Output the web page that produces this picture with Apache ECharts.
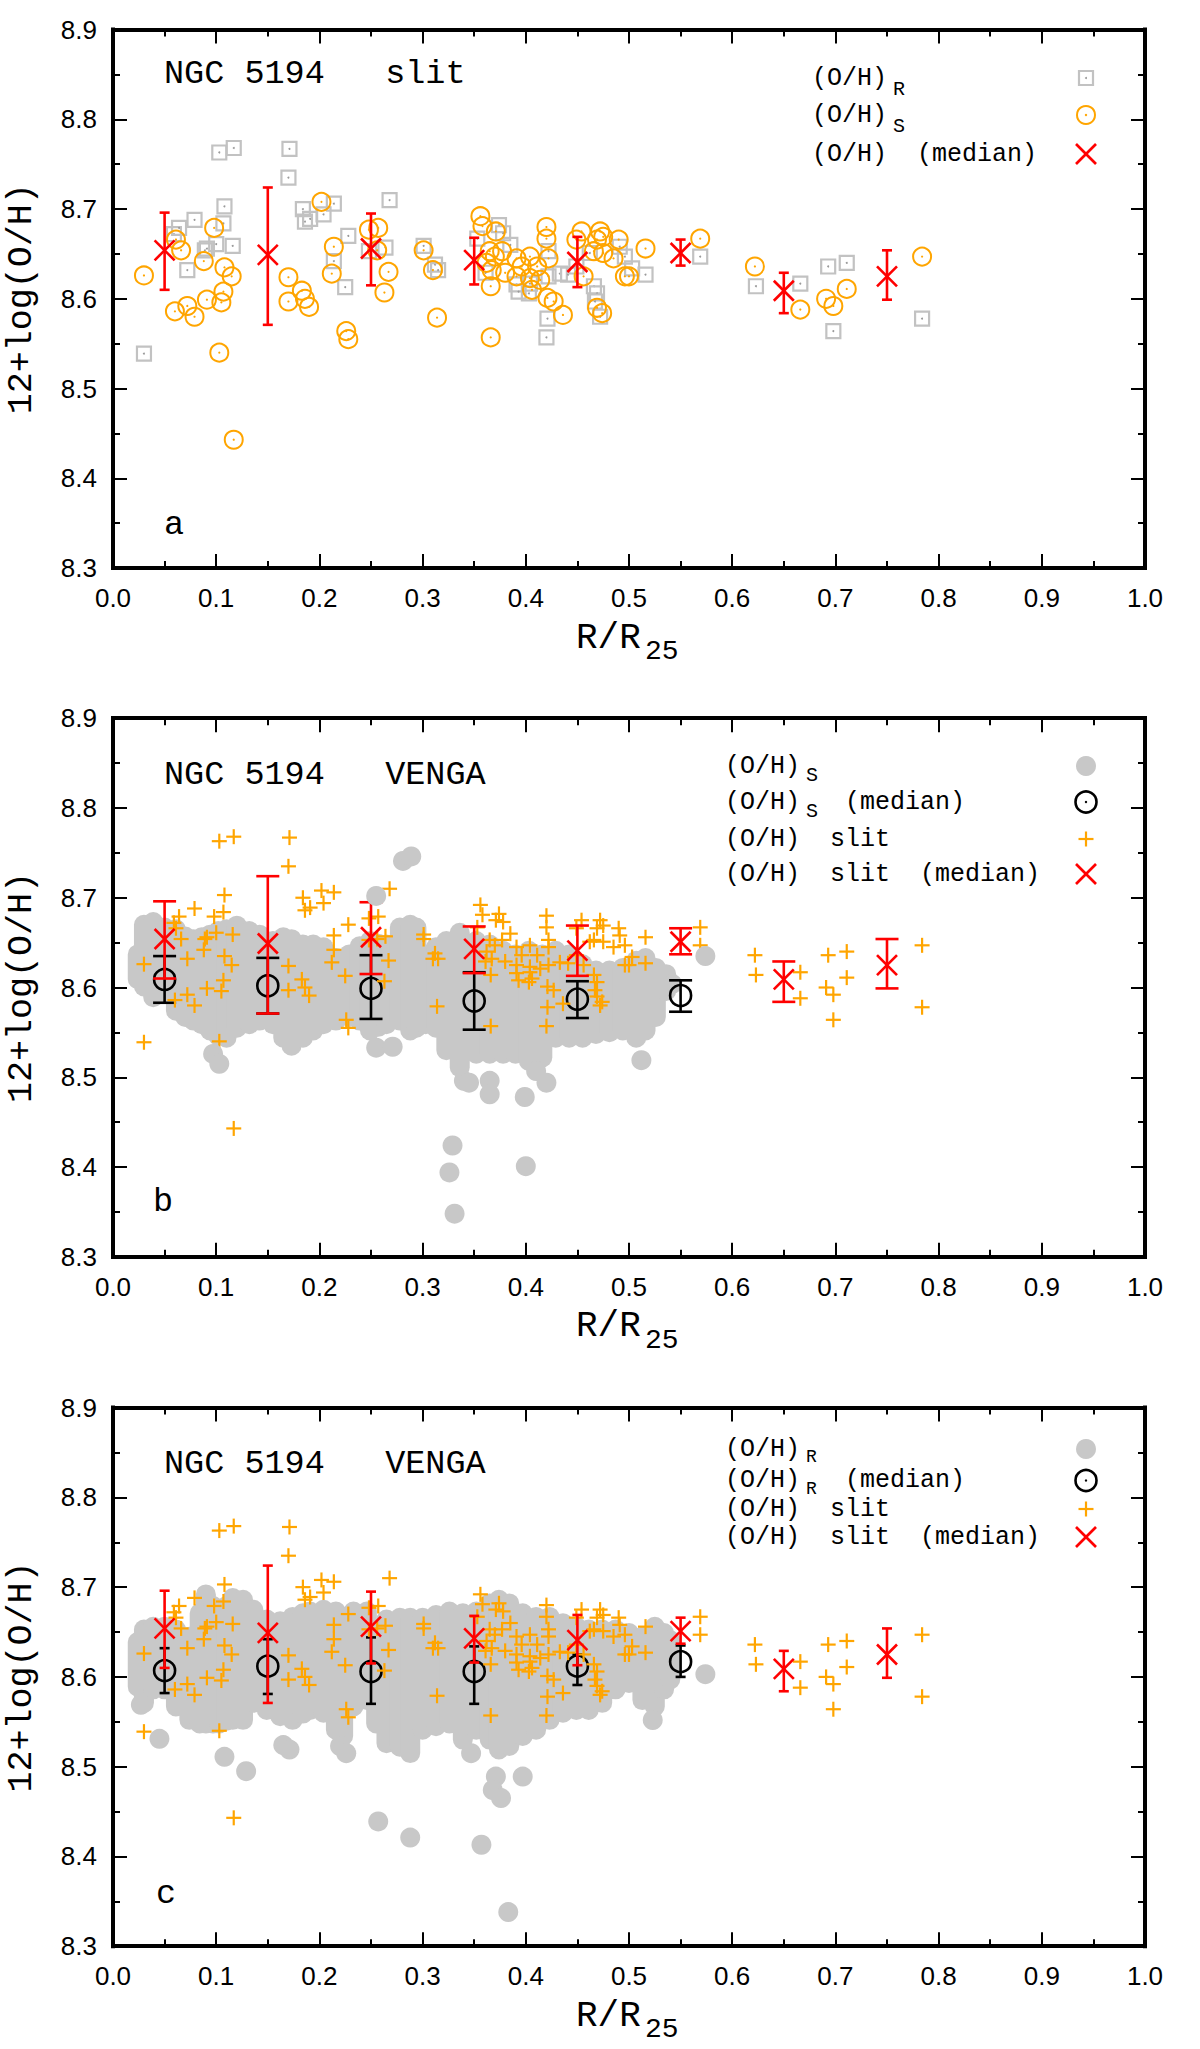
<!DOCTYPE html>
<html>
<head>
<meta charset="utf-8">
<script src="https://cdn.jsdelivr.net/npm/echarts@6/dist/echarts.min.js"></script>
<style>
html,body{margin:0;padding:0;background:#ffffff;}
#chart{width:1200px;height:2049px;}
</style>
</head>
<body>
<div id="chart"></div>
<script>
// ================= DATA =================
const xTickLabels = ['0.0','0.1','0.2','0.3','0.4','0.5','0.6','0.7','0.8','0.9','1.0'];
const yTickLabels = ['8.3','8.4','8.5','8.6','8.7','8.8','8.9'];

// slit measurements, (O/H)_R  : [R/R25, 12+log(O/H)]
const slitR = [
  [0.030,8.539],[0.059,8.672],[0.064,8.679],[0.072,8.632],[0.079,8.688],[0.089,8.654],[0.091,8.656],
  [0.100,8.661],[0.103,8.763],[0.107,8.684],[0.108,8.703],[0.116,8.659],[0.117,8.768],[0.170,8.735],
  [0.171,8.767],[0.184,8.700],[0.186,8.686],[0.191,8.689],[0.204,8.694],[0.214,8.706],[0.214,8.642],
  [0.225,8.613],[0.228,8.670],[0.248,8.653],[0.264,8.657],[0.268,8.710],[0.301,8.659],[0.312,8.638],
  [0.315,8.632],[0.353,8.667],[0.361,8.629],[0.374,8.682],[0.378,8.673],[0.385,8.660],[0.391,8.616],
  [0.393,8.608],[0.403,8.606],[0.404,8.617],[0.422,8.653],[0.422,8.625],[0.421,8.578],[0.420,8.557],
  [0.433,8.628],[0.441,8.627],[0.449,8.636],[0.462,8.651],[0.466,8.614],[0.469,8.606],[0.467,8.597],
  [0.472,8.580],[0.491,8.658],[0.496,8.647],[0.503,8.634],[0.516,8.627],[0.569,8.647],[0.623,8.614],
  [0.666,8.617],[0.693,8.636],[0.698,8.564],[0.711,8.640],[0.784,8.578]
];
// slit measurements, (O/H)_S
const slitS = [
  [0.030,8.626],[0.060,8.586],[0.061,8.666],[0.066,8.654],[0.072,8.592],[0.079,8.580],[0.088,8.642],
  [0.091,8.599],[0.098,8.679],[0.103,8.540],[0.105,8.596],[0.107,8.608],[0.108,8.635],[0.115,8.625],
  [0.117,8.443],[0.170,8.624],[0.170,8.597],[0.183,8.609],[0.186,8.600],[0.190,8.591],[0.202,8.708],
  [0.212,8.628],[0.214,8.658],[0.226,8.564],[0.228,8.555],[0.248,8.677],[0.256,8.654],[0.257,8.679],
  [0.263,8.607],[0.267,8.630],[0.301,8.654],[0.310,8.632],[0.314,8.579],[0.356,8.692],[0.358,8.681],
  [0.362,8.640],[0.365,8.653],[0.366,8.614],[0.366,8.557],[0.367,8.632],[0.370,8.647],[0.371,8.675],
  [0.377,8.653],[0.380,8.629],[0.391,8.645],[0.391,8.625],[0.396,8.636],[0.404,8.647],[0.404,8.623],
  [0.406,8.610],[0.411,8.636],[0.414,8.621],[0.420,8.680],[0.420,8.667],[0.421,8.601],[0.422,8.645],
  [0.427,8.597],[0.436,8.582],[0.449,8.666],[0.454,8.675],[0.456,8.625],[0.466,8.653],[0.469,8.666],
  [0.469,8.590],[0.472,8.675],[0.474,8.584],[0.475,8.669],[0.475,8.651],[0.485,8.645],[0.490,8.666],
  [0.496,8.625],[0.500,8.625],[0.516,8.656],[0.569,8.667],[0.622,8.636],[0.666,8.588],[0.691,8.600],
  [0.698,8.592],[0.711,8.611],[0.784,8.647]
];
// slit medians per 0.1 bin
const slitMedX  = [0.05, 0.15, 0.25, 0.35, 0.45, 0.55, 0.65, 0.75];
const slitMedY  = [8.654,8.649,8.656,8.643,8.641,8.651,8.609,8.625];
const slitMedLo = [8.610,8.571,8.615,8.616,8.613,8.637,8.584,8.599];
const slitMedHi = [8.696,8.724,8.695,8.668,8.669,8.666,8.629,8.654];

// VENGA (O/H)_S : dense cloud read as columns [R/R25, lower edge, upper edge]
const vengaSCloud = [
  [0.024,8.598,8.648],[0.030,8.590,8.681],[0.039,8.578,8.684],[0.050,8.583,8.678],[0.061,8.563,8.676],
  [0.070,8.556,8.668],[0.078,8.552,8.665],[0.086,8.548,8.667],[0.094,8.541,8.670],[0.102,8.535,8.674],
  [0.110,8.533,8.676],[0.120,8.544,8.680],[0.132,8.548,8.674],[0.142,8.552,8.670],[0.155,8.548,8.663],
  [0.165,8.533,8.667],[0.173,8.524,8.665],[0.184,8.533,8.659],[0.194,8.541,8.659],[0.204,8.548,8.656],
  [0.216,8.552,8.644],[0.229,8.556,8.648],[0.239,8.552,8.657],[0.249,8.541,8.663],[0.257,8.545,8.660],
  [0.265,8.548,8.659],[0.278,8.552,8.678],[0.288,8.541,8.681],[0.294,8.544,8.678],[0.303,8.548,8.648],
  [0.313,8.544,8.656],[0.323,8.519,8.663],[0.336,8.500,8.672],[0.352,8.515,8.663],[0.365,8.515,8.659],
  [0.378,8.515,8.652],[0.390,8.515,8.648],[0.403,8.507,8.652],[0.416,8.511,8.648],[0.429,8.533,8.652],
  [0.442,8.533,8.648],[0.455,8.533,8.637],[0.468,8.537,8.630],[0.481,8.539,8.630],[0.494,8.541,8.633],
  [0.507,8.533,8.641],[0.516,8.541,8.644],[0.526,8.556,8.633],[0.536,8.585,8.626],[0.542,8.596,8.615]
];
// VENGA (O/H)_S : isolated points
const vengaSOut = [
  [0.097,8.526],[0.103,8.515],[0.255,8.533],[0.271,8.534],[0.255,8.702],[0.281,8.741],[0.289,8.746],
  [0.329,8.424],[0.326,8.394],[0.331,8.348],[0.400,8.401],[0.340,8.496],[0.345,8.494],[0.365,8.496],
  [0.365,8.481],[0.399,8.478],[0.410,8.507],[0.420,8.494],[0.512,8.519],[0.574,8.635]
];
const vengaSMedX  = [0.05, 0.15, 0.25, 0.35, 0.45, 0.55];
const vengaSMedY  = [8.609,8.602,8.599,8.585,8.587,8.591];
const vengaSMedLo = [8.583,8.571,8.565,8.553,8.566,8.573];
const vengaSMedHi = [8.635,8.633,8.636,8.617,8.607,8.608];

// VENGA (O/H)_R : dense cloud columns [R/R25, lower edge, upper edge]
const vengaRCloud = [
  [0.024,8.578,8.650],[0.030,8.560,8.664],[0.039,8.575,8.667],[0.050,8.575,8.667],[0.061,8.556,8.664],
  [0.074,8.541,8.656],[0.084,8.537,8.682],[0.090,8.537,8.703],[0.097,8.537,8.690],[0.103,8.537,8.682],
  [0.110,8.540,8.690],[0.116,8.541,8.699],[0.126,8.541,8.697],[0.136,8.560,8.686],[0.149,8.552,8.675],
  [0.162,8.545,8.673],[0.174,8.541,8.678],[0.184,8.548,8.682],[0.191,8.552,8.684],[0.204,8.549,8.686],
  [0.216,8.530,8.684],[0.223,8.523,8.675],[0.233,8.556,8.684],[0.246,8.563,8.684],[0.255,8.537,8.660],
  [0.265,8.515,8.675],[0.278,8.511,8.677],[0.288,8.504,8.677],[0.300,8.530,8.677],[0.313,8.534,8.680],
  [0.326,8.537,8.684],[0.339,8.519,8.682],[0.352,8.530,8.684],[0.365,8.519,8.693],[0.374,8.508,8.697],
  [0.384,8.512,8.693],[0.397,8.523,8.682],[0.410,8.530,8.678],[0.423,8.541,8.678],[0.436,8.549,8.671],
  [0.449,8.552,8.667],[0.461,8.552,8.664],[0.474,8.560,8.664],[0.487,8.575,8.664],[0.500,8.582,8.660],
  [0.513,8.563,8.656],[0.525,8.556,8.667],[0.534,8.575,8.660],[0.540,8.586,8.652]
];
const vengaROut = [
  [0.045,8.531],[0.027,8.569],[0.108,8.511],[0.129,8.495],[0.165,8.524],[0.171,8.519],[0.220,8.523],
  [0.226,8.515],[0.257,8.439],[0.288,8.421],[0.357,8.413],[0.383,8.338],[0.347,8.515],[0.371,8.489],
  [0.368,8.474],[0.376,8.465],[0.397,8.489],[0.523,8.552],[0.574,8.603]
];
const vengaRMedX  = [0.05, 0.15, 0.25, 0.35, 0.45, 0.55];
const vengaRMedY  = [8.607,8.612,8.606,8.606,8.612,8.617];
const vengaRMedLo = [8.582,8.581,8.570,8.570,8.591,8.600];
const vengaRMedHi = [8.632,8.642,8.644,8.634,8.625,8.635];

// ================= STYLE / LAYOUT =================
const ORANGE = '#ffa500', RED = '#ff0000', BLACK = '#000000';
const SQGRAY = '#c2c2c2', CLOUD = '#c8c8c8';
const SANS = '"Liberation Sans", Arial, Helvetica, sans-serif';
const MONO = '"Liberation Mono", "Courier New", monospace';
const GRID_LEFT = 113, GRID_W = 1032, GRID_H = 538.6;
const GRID_TOP = [29.5, 718.2, 1407.6];

const zip4 = (a, b, c, d) => a.map((v, i) => [v, b[i], c[i], d[i]]);

// ---------- render helpers ----------
function cloudItem(params, api) {
  const x = api.value(0), lo = api.value(1), hi = api.value(2);
  const t = api.coord([x, hi]), b = api.coord([x, lo]);
  const r = 10;
  return { type: 'rect', shape: { x: t[0] - r, y: t[1], width: 2 * r, height: Math.max(b[1] - t[1], 2 * r), r: r },
           style: { fill: CLOUD } };
}
function ringItem(params, api) {
  const p = api.coord([api.value(0), api.value(1)]);
  return { type: 'group', children: [
    { type: 'circle', shape: { cx: p[0], cy: p[1], r: 9 }, style: { fill: 'none', stroke: ORANGE, lineWidth: 2 } },
    { type: 'circle', shape: { cx: p[0], cy: p[1], r: 1.1 }, style: { fill: ORANGE } }
  ] };
}
function squareItem(params, api) {
  const p = api.coord([api.value(0), api.value(1)]);
  return { type: 'group', children: [
    { type: 'rect', shape: { x: p[0] - 7, y: p[1] - 7, width: 14, height: 14 }, style: { fill: 'none', stroke: SQGRAY, lineWidth: 2.2 } },
    { type: 'circle', shape: { cx: p[0], cy: p[1], r: 1 }, style: { fill: '#9a9a9a' } }
  ] };
}
function plusItem(params, api) {
  const p = api.coord([api.value(0), api.value(1)]);
  const h = 7.5;
  return { type: 'group', children: [
    { type: 'line', shape: { x1: p[0] - h, y1: p[1], x2: p[0] + h, y2: p[1] }, style: { stroke: ORANGE, lineWidth: 2.2 } },
    { type: 'line', shape: { x1: p[0], y1: p[1] - h, x2: p[0], y2: p[1] + h }, style: { stroke: ORANGE, lineWidth: 2.2 } }
  ] };
}
function medianItem(marker, color, capW) {
  return function (params, api) {
    const x = api.value(0), y = api.value(1), lo = api.value(2), hi = api.value(3);
    const c = api.coord([x, y]), pHi = api.coord([x, hi]), pLo = api.coord([x, lo]);
    const st = { stroke: color, lineWidth: 2.6 };
    const ch = [
      { type: 'line', shape: { x1: pHi[0], y1: pHi[1], x2: pLo[0], y2: pLo[1] }, style: st },
      { type: 'line', shape: { x1: pHi[0] - capW / 2, y1: pHi[1], x2: pHi[0] + capW / 2, y2: pHi[1] }, style: st },
      { type: 'line', shape: { x1: pLo[0] - capW / 2, y1: pLo[1], x2: pLo[0] + capW / 2, y2: pLo[1] }, style: st }
    ];
    if (marker === 'x') {
      const h = 10;
      ch.push({ type: 'line', shape: { x1: c[0] - h, y1: c[1] - h, x2: c[0] + h, y2: c[1] + h }, style: st });
      ch.push({ type: 'line', shape: { x1: c[0] - h, y1: c[1] + h, x2: c[0] + h, y2: c[1] - h }, style: st });
    } else {
      ch.push({ type: 'circle', shape: { cx: c[0], cy: c[1], r: 10.5 }, style: { fill: 'none', stroke: color, lineWidth: 2.6 } });
    }
    return { type: 'group', children: ch };
  };
}

// ---------- axes ----------
const grids = [], xAxes = [], yAxes = [];
const lineSt = { color: BLACK, width: 4, cap: 'square' };
const tickSt = { color: BLACK, width: 2 };
GRID_TOP.forEach((top, i) => {
  grids.push({ left: GRID_LEFT, top: top, width: GRID_W, height: GRID_H, outerBoundsMode: 'none', containLabel: false });
  const xBase = { gridIndex: i, type: 'value', min: 0, max: 1, interval: 0.1,
    axisLine: { show: true, onZero: false, lineStyle: lineSt },
    axisTick: { show: true, inside: true, length: 14, lineStyle: tickSt },
    minorTick: { show: true, splitNumber: 2, length: 7, lineStyle: tickSt },
    splitLine: { show: false }, minorSplitLine: { show: false } };
  xAxes.push(Object.assign({}, xBase, { position: 'bottom',
    axisLabel: { show: true, margin: 17, fontSize: 26, fontFamily: SANS, color: BLACK,
      showMinLabel: true, showMaxLabel: true,
      formatter: v => xTickLabels[Math.round(v * 10)] } }));
  xAxes.push(Object.assign({}, xBase, { position: 'top', axisLabel: { show: false } }));
  const yBase = { gridIndex: i, type: 'value', min: 8.3, max: 8.9, interval: 0.1,
    axisLine: { show: true, onZero: false, lineStyle: lineSt },
    axisTick: { show: true, inside: true, length: 14, lineStyle: tickSt },
    minorTick: { show: true, splitNumber: 2, length: 7, lineStyle: tickSt },
    splitLine: { show: false }, minorSplitLine: { show: false } };
  yAxes.push(Object.assign({}, yBase, { position: 'left',
    name: '12+log(O/H)', nameLocation: 'middle', nameRotate: 90, nameGap: 74,
    nameTextStyle: { fontFamily: MONO, fontSize: 35, color: BLACK },
    axisLabel: { show: true, margin: 16, fontSize: 26, fontFamily: SANS, color: BLACK,
      showMinLabel: true, showMaxLabel: true,
      formatter: v => yTickLabels[Math.round((v - 8.3) * 10)] } }));
  yAxes.push(Object.assign({}, yBase, { position: 'right', axisLabel: { show: false } }));
});
const ax = i => ({ xAxisIndex: 2 * i, yAxisIndex: 2 * i });

// ---------- series ----------
const slitAll = slitR.concat(slitS);
const series = [
  // panel a
  Object.assign({ type: 'custom', name: '(O/H)R', renderItem: squareItem, data: slitR }, ax(0)),
  Object.assign({ type: 'custom', name: '(O/H)S', renderItem: ringItem, data: slitS }, ax(0)),
  Object.assign({ type: 'custom', name: '(O/H) (median)', renderItem: medianItem('x', RED, 10),
    data: zip4(slitMedX, slitMedY, slitMedLo, slitMedHi) }, ax(0)),
  // panel b
  Object.assign({ type: 'custom', name: 'VENGA S cloud', renderItem: cloudItem, data: vengaSCloud }, ax(1)),
  Object.assign({ type: 'scatter', name: 'VENGA S', symbol: 'circle', symbolSize: 20,
    itemStyle: { color: CLOUD, opacity: 1 }, data: vengaSOut }, ax(1)),
  Object.assign({ type: 'custom', name: 'VENGA S median', renderItem: medianItem('o', BLACK, 23),
    data: zip4(vengaSMedX, vengaSMedY, vengaSMedLo, vengaSMedHi) }, ax(1)),
  Object.assign({ type: 'custom', name: 'slit b', renderItem: plusItem, data: slitAll }, ax(1)),
  Object.assign({ type: 'custom', name: 'slit median b', renderItem: medianItem('x', RED, 23),
    data: zip4(slitMedX, slitMedY, slitMedLo, slitMedHi) }, ax(1)),
  // panel c
  Object.assign({ type: 'custom', name: 'VENGA R cloud', renderItem: cloudItem, data: vengaRCloud }, ax(2)),
  Object.assign({ type: 'scatter', name: 'VENGA R', symbol: 'circle', symbolSize: 20,
    itemStyle: { color: CLOUD, opacity: 1 }, data: vengaROut }, ax(2)),
  Object.assign({ type: 'custom', name: 'VENGA R median', renderItem: medianItem('o', BLACK, 10),
    data: zip4(vengaRMedX, vengaRMedY, vengaRMedLo, vengaRMedHi) }, ax(2)),
  Object.assign({ type: 'custom', name: 'slit c', renderItem: plusItem, data: slitAll }, ax(2)),
  Object.assign({ type: 'custom', name: 'slit median c', renderItem: medianItem('x', RED, 10),
    data: zip4(slitMedX, slitMedY, slitMedLo, slitMedHi) }, ax(2))
];

// ---------- texts & legends (graphic) ----------
const G = [];
function txt(x, y, s, size, extra) {
  G.push(Object.assign({ type: 'text', x: x, y: y, silent: true,
    style: { text: s, font: size + 'px ' + MONO, fill: BLACK, align: 'left', verticalAlign: 'middle',
             textAlign: 'left', textVerticalAlign: 'middle' } }, extra || {}));
}
// titles and panel letters
txt(164, GRID_TOP[0] + 44.2, 'NGC 5194   slit', 33.5);
txt(164, GRID_TOP[1] + 56.4, 'NGC 5194   VENGA', 33.5);
txt(164, GRID_TOP[2] + 56.8, 'NGC 5194   VENGA', 33.5);
txt(164, GRID_TOP[0] + 495.5, 'a', 33.5);
txt(153, GRID_TOP[1] + 483.5, 'b', 33.5);
txt(156, GRID_TOP[2] + 486, 'c', 33.5);
// x-axis titles R/R25
GRID_TOP.forEach(top => {
  const yb = top + GRID_H;
  txt(576, yb + 70, 'R/R', 36);
  txt(645, yb + 83.5, '25', 28);
});
// legend symbols
const SYM_X = 1086;
function legSquare(y) {
  G.push({ type: 'rect', shape: { x: SYM_X - 7, y: y - 7, width: 14, height: 14 }, style: { fill: 'none', stroke: SQGRAY, lineWidth: 2.2 } });
  G.push({ type: 'circle', shape: { cx: SYM_X, cy: y, r: 1 }, style: { fill: '#9a9a9a' } });
}
function legRing(y, color) {
  G.push({ type: 'circle', shape: { cx: SYM_X, cy: y, r: color === BLACK ? 10.5 : 9 }, style: { fill: 'none', stroke: color, lineWidth: color === BLACK ? 2.6 : 2 } });
  G.push({ type: 'circle', shape: { cx: SYM_X, cy: y, r: 1.2 }, style: { fill: color } });
}
function legX(y) {
  const h = 10;
  G.push({ type: 'line', shape: { x1: SYM_X - h, y1: y - h, x2: SYM_X + h, y2: y + h }, style: { stroke: RED, lineWidth: 2.6 } });
  G.push({ type: 'line', shape: { x1: SYM_X - h, y1: y + h, x2: SYM_X + h, y2: y - h }, style: { stroke: RED, lineWidth: 2.6 } });
}
function legPlus(y) {
  const h = 7.5;
  G.push({ type: 'line', shape: { x1: SYM_X - h, y1: y, x2: SYM_X + h, y2: y }, style: { stroke: ORANGE, lineWidth: 2.2 } });
  G.push({ type: 'line', shape: { x1: SYM_X, y1: y - h, x2: SYM_X, y2: y + h }, style: { stroke: ORANGE, lineWidth: 2.2 } });
}
function legDot(y) {
  G.push({ type: 'circle', shape: { cx: SYM_X, cy: y, r: 10 }, style: { fill: CLOUD } });
}
// legend a
{
  const L = 812, rows = [78, 115, 154];
  txt(L, rows[0], '(O/H)', 25); txt(L + 81, rows[0] + 11, 'R', 20); legSquare(rows[0]);
  txt(L, rows[1], '(O/H)', 25); txt(L + 81, rows[1] + 11, 'S', 20); legRing(rows[1], ORANGE);
  txt(L, rows[2], '(O/H)  (median)', 25); legX(rows[2]);
}
// legend b
{
  const L = 725, rows = [766, 802, 839, 874];
  txt(L, rows[0], '(O/H)', 25); txt(L + 81, rows[0] + 9, 'S', 20); legDot(rows[0]);
  txt(L, rows[1], '(O/H)', 25); txt(L + 81, rows[1] + 9, 'S', 20); txt(L + 120, rows[1], '(median)', 25); legRing(rows[1], BLACK);
  txt(L, rows[2], '(O/H)  slit', 25); legPlus(rows[2]);
  txt(L, rows[3], '(O/H)  slit  (median)', 25); legX(rows[3]);
}
// legend c (rows are tightly packed in the reference)
{
  const L = 725, rows = [1449, 1480.5, 1509, 1537];
  txt(L, rows[0], '(O/H)', 25); txt(L + 81, rows[0] + 8, 'R', 18); legDot(rows[0]);
  txt(L, rows[1], '(O/H)', 25); txt(L + 81, rows[1] + 8, 'R', 18); txt(L + 120, rows[1], '(median)', 25); legRing(rows[1], BLACK);
  txt(L, rows[2], '(O/H)  slit', 25); legPlus(rows[2]);
  txt(L, rows[3], '(O/H)  slit  (median)', 25); legX(rows[3]);
}

const chart = echarts.init(document.getElementById('chart'), null, { renderer: 'svg', width: 1200, height: 2049 });
chart.setOption({
  backgroundColor: '#ffffff',
  animation: false,
  grid: grids,
  xAxis: xAxes,
  yAxis: yAxes,
  series: series,
  graphic: G
});
</script>
</body>
</html>
